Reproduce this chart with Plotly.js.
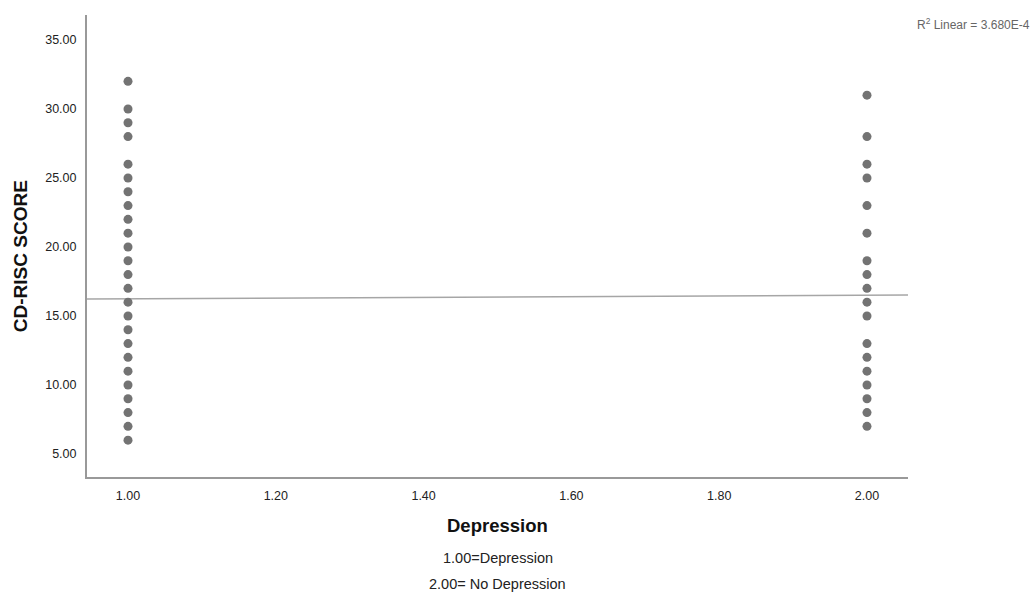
<!DOCTYPE html>
<html>
<head>
<meta charset="utf-8">
<script src="https://cdn.plot.ly/plotly-3.0.1.min.js"></script>
<style>html,body{margin:0;padding:0;background:#fff;}#chart{width:1035px;height:592px;}</style>
</head>
<body>
<div id="chart"></div>
<script>
const depressionScores = [32, 30, 29, 28, 26, 25, 24, 23, 22, 21, 20, 19, 18, 17, 16, 15, 14, 13, 12, 11, 10, 9, 8, 7, 6];
const noDepressionScores = [31, 28, 26, 25, 23, 21, 19, 18, 17, 16, 15, 13, 12, 11, 10, 9, 8, 7];
const groupCodes = [1.00, 2.00];
// Linear fit
const fitIntercept = 15.98;
const fitSlope = 0.26;
const rSquared = "3.680E-4";
const xTicks = [1.0, 1.2, 1.4, 1.6, 1.8, 2.0];
const yTicks = [5, 10, 15, 20, 25, 30, 35];

const xRange = [0.9445, 2.0555];
const yRange = [3.33, 36.81];

const xs = [], ys = [];
depressionScores.forEach(v => { xs.push(groupCodes[0]); ys.push(v); });
noDepressionScores.forEach(v => { xs.push(groupCodes[1]); ys.push(v); });

const fitX = xRange.slice();
const fitY = fitX.map(x => fitIntercept + fitSlope * x);

const font = "Liberation Sans, Arial, sans-serif";

const traces = [
  {x: fitX, y: fitY, mode: 'lines', type: 'scatter', line: {color: '#a6a6a6', width: 1.5}, hoverinfo: 'skip', cliponaxis: true},
  {x: xs, y: ys, mode: 'markers', type: 'scatter', marker: {color: '#737373', size: 9, symbol: 'circle', line: {width: 0}}}
];

const layout = {
  width: 1035, height: 592,
  margin: {l: 87, r: 127, t: 15, b: 115, pad: 0},
  paper_bgcolor: '#fff', plot_bgcolor: '#fff',
  showlegend: false,
  font: {family: font, color: '#222'},
  xaxis: {
    range: xRange, tickvals: xTicks, ticktext: xTicks.map(v => v.toFixed(2)),
    showgrid: false, zeroline: false, showline: true, linecolor: '#999', linewidth: 2,
    ticks: '', ticklabelstandoff: 6, tickfont: {size: 12.5, color: '#222', family: font}
  },
  yaxis: {
    range: yRange, tickvals: yTicks, ticktext: yTicks.map(v => v.toFixed(2)),
    showgrid: false, zeroline: false, showline: true, linecolor: '#999', linewidth: 2,
    ticks: '', ticklabelstandoff: 6, tickfont: {size: 12.5, color: '#222', family: font}
  },
  annotations: [
    {xref: 'paper', yref: 'paper', x: 0.5, y: 0, yshift: -48, yanchor: 'middle', xanchor: 'center', showarrow: false,
     text: '<b>Depression</b>', font: {size: 18.5, color: '#111', family: font}},
    {xref: 'paper', yref: 'paper', x: 0.5, y: 0, yshift: -81, yanchor: 'middle', xanchor: 'center', showarrow: false,
     text: '1.00=Depression', font: {size: 14.5, color: '#222', family: font}},
    {xref: 'paper', yref: 'paper', x: 0.5, y: 0, yshift: -107, yanchor: 'middle', xanchor: 'center', showarrow: false,
     text: '2.00= No Depression', font: {size: 14.5, color: '#222', family: font}},
    {xref: 'paper', yref: 'paper', x: 0, xshift: -67, y: 0.478, yanchor: 'middle', xanchor: 'center', showarrow: false,
     textangle: -90, text: '<b>CD-RISC SCORE</b>', font: {size: 19, color: '#111', family: font}},
    {xref: 'paper', yref: 'paper', x: 1, xshift: 124, y: 1, yshift: -9, yanchor: 'middle', xanchor: 'right', showarrow: false,
     text: 'R<sup>2</sup> Linear = ' + rSquared, font: {size: 12, color: '#666', family: font}}
  ]
};

Plotly.newPlot('chart', traces, layout, {displayModeBar: false, staticPlot: true});
</script>
</body>
</html>
